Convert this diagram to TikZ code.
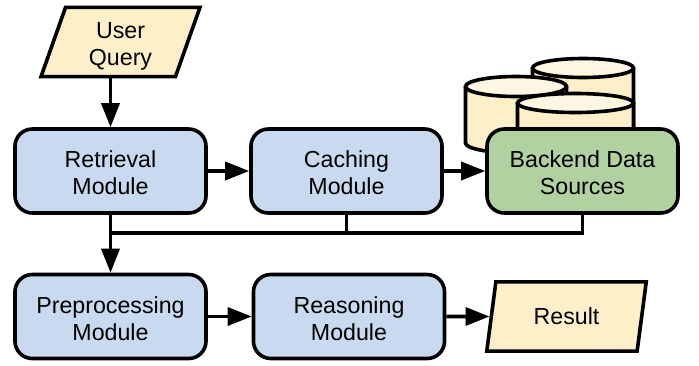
\documentclass[tikz,border=0pt]{standalone}
\usepackage{fontspec}
\setmainfont{Liberation Sans}
\usepackage{pgf,tikz}
\usepackage[dvipsnames]{xcolor}
\usetikzlibrary{shapes,arrows}
\usetikzlibrary{arrows.meta}
\definecolor{modblue}{HTML}{C9DAF0}
\definecolor{cream}{HTML}{FDF0C8}
\definecolor{creamtop}{HTML}{FEF6E0}
\definecolor{srcgreen}{HTML}{B2D1A0}
\newcommand{\lifttext}[1]{\rule{0pt}{#1}}

\begin{document}
\begin{tikzpicture}
      [line cap=butt,line join=miter,x=0.75pt,y=-0.75pt,line width=2.7pt,
       modbox/.style={draw=black,fill=modblue,rounded corners=13pt,minimum width=143.3pt,minimum height=63pt,align=center,inner sep=0pt,font=\fontsize{17.4}{20.3}\selectfont},
       srcbox/.style={modbox,fill=srcgreen},
       iobox/.style={draw=black,fill=cream,shape=trapezium,trapezium left angle=76,trapezium right angle=104,trapezium stretches=true,align=center,inner sep=0pt,minimum width=120pt,minimum height=52pt,font=\fontsize{17.4}{20.3}\selectfont},
       flow/.style={-{Triangle[length=18pt,width=13.5pt]}}]

\useasboundingbox (0,0) rectangle (699,365);

%the stacked cylinders behind the data sources
\foreach \cx/\cy/\rx/\ry in {583/68/50.5/9.5,516/86.5/50.5/10,575.5/103/58/9.5}
{
  \fill[color=cream] (\cx-\rx,\cy) -- (\cx-\rx,143) arc[start angle=180,end angle=0,x radius=\rx,y radius=\ry] -- (\cx+\rx,\cy) -- cycle;
  \draw (\cx+\rx,\cy) -- (\cx+\rx,143) arc[start angle=0,end angle=180,x radius=\rx,y radius=\ry] -- (\cx-\rx,\cy);
  \draw[fill=creamtop] (\cx,\cy) ellipse [x radius=\rx,y radius=\ry];
}

%first row
\node[iobox] (query) at (120.5,42) {\lifttext{18.5pt}User\\Query};
\node[modbox] (retrieval) at (110.5,171) {\lifttext{15.7pt}Retrieval\\Module};
\node[modbox] (caching) at (346.5,171) {\lifttext{15.7pt}Caching\\Module};
\node[srcbox] (backend) at (582.5,171) {\lifttext{15.7pt}Backend Data\\Sources};

%second row
\node[modbox] (preproc) at (110.5,316.5) {\lifttext{15.7pt}Preprocessing\\Module};
\node[modbox] (reasoning) at (349,316.5) {\lifttext{15.7pt}Reasoning\\Module};
\node[iobox] (result) at (566.5,316.5) {Result};

%connectors
\coordinate (busjoin) at (110.5,233);

\draw[flow] (retrieval.north |- query.south) -- (retrieval.north);
\draw[flow] (retrieval) -- (caching);
\draw[flow] (caching) -- (backend);
\draw[flow] (retrieval) -- (preproc);
\draw (caching.south) -- (caching.south |- busjoin);
\draw (backend.south) |- (busjoin);
\draw[flow] (preproc) -- (reasoning);
\draw[flow] (reasoning) -- (result);

\end{tikzpicture}
\end{document}
